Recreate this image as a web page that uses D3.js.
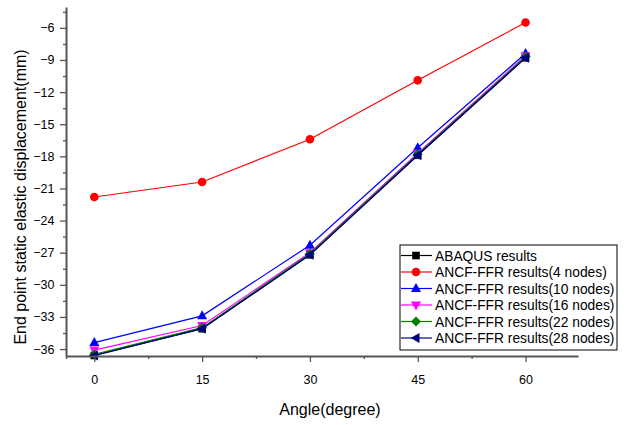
<!DOCTYPE html>
<html>
<head>
<meta charset="utf-8">
<script src="https://cdn.jsdelivr.net/npm/d3@7"></script>
<style>
  body { margin: 0; background: #fff; }
  text { font-family: Arial, "Liberation Sans", sans-serif; }
</style>
</head>
<body>
<div id="chart"></div>
<script>
// angles (degree)
var angles = [0, 15, 30, 45, 60];
var xTicks = [0, 15, 30, 45, 60];
var yTicks = [-36, -33, -30, -27, -24, -21, -18, -15, -12, -9, -6];

// end point displacement (mm)
var abaqus  = [-36.6, -34.1, -27.2, -17.9, -8.8];
var ffr4    = [-21.8, -20.4, -16.4, -10.9, -5.5];
var ffr10   = [-35.4, -32.9, -26.3, -17.2, -8.4];
var ffr16   = [-36.1, -33.8, -27.0, -17.7, -8.6];
var ffr22   = [-36.5, -34.0, -27.1, -17.8, -8.7];
var ffr28   = [-36.6, -34.1, -27.2, -17.9, -8.8];

var seriesNames = ["ABAQUS results", "ANCF-FFR results(4 nodes)", "ANCF-FFR results(10 nodes)",
  "ANCF-FFR results(16 nodes)", "ANCF-FFR results(22 nodes)", "ANCF-FFR results(28 nodes)"];
var seriesColors = ["#000000", "#ff0000", "#0000ff", "#ff00ff", "#008000", "#000080"];
var seriesSymbols = ["square", "circle", "up", "down", "diamond", "left"];
var seriesValues = [abaqus, ffr4, ffr10, ffr16, ffr22, ffr28];

var width = 625, height = 425;
var margin = {left: 66, right: 578, top: 7, bottom: 356};

var svg = d3.select('#chart').append('svg')
  .attr('width', width)
  .attr('height', height);

var x = d3.scaleLinear().domain([-3.94, 67.3]).range([margin.left, margin.right]);
var y = d3.scaleLinear().domain([-36.65, -4.05]).range([margin.bottom, margin.top]);

function marker(sel, sym, color) {
  if (sym == "circle") {
    sel.append('circle').attr('r', 4.3).attr('fill', color);
  } else if (sym == "square") {
    sel.append('rect').attr('x', -3.8).attr('y', -3.8).attr('width', 7.6).attr('height', 7.6).attr('fill', color);
  } else {
    var p;
    if (sym == "up") p = "M0,-5.5L5,3.5L-5,3.5Z";
    else if (sym == "down") p = "M0,5.5L5,-3.5L-5,-3.5Z";
    else if (sym == "left") p = "M-5.5,0L3.5,-5L3.5,5Z";
    else p = "M0,-5L5,0L0,5L-5,0Z";
    sel.append('path').attr('d', p).attr('fill', color);
  }
}

var line = d3.line()
  .x(function(d, i) { return x(angles[i]); })
  .y(function(d) { return y(d); });

seriesValues.forEach(function(vals, s) {
  svg.append('path')
    .datum(vals)
    .attr('d', line)
    .attr('fill', 'none')
    .attr('stroke', seriesColors[s])
    .attr('stroke-width', 1.2);
  svg.selectAll('.m' + s)
    .data(vals)
    .enter().append('g')
    .attr('class', 'm' + s)
    .attr('transform', function(d, i) { return 'translate(' + x(angles[i]) + ',' + y(d) + ')'; })
    .each(function() { marker(d3.select(this), seriesSymbols[s], seriesColors[s]); });
});

// axes
var axisColor = "#555";
var gx = svg.append('g')
  .attr('transform', 'translate(0,' + margin.bottom + ')')
  .call(d3.axisBottom(x).tickValues(xTicks).tickSize(6).tickSizeOuter(0));
svg.append('g')
  .attr('transform', 'translate(0,' + margin.bottom + ')')
  .call(d3.axisBottom(x).tickValues([-3.94, 7.5, 22.5, 37.5, 52.5]).tickSize(3).tickFormat(''))
  .select('.domain').remove();

var gy = svg.append('g')
  .attr('transform', 'translate(' + margin.left + ',0)')
  .call(d3.axisLeft(y).tickValues(yTicks).tickSize(6).tickSizeOuter(0));
svg.append('g')
  .attr('transform', 'translate(' + margin.left + ',0)')
  .call(d3.axisLeft(y).tickValues(d3.range(-34.5, -4, 3)).tickSize(3).tickFormat(''))
  .select('.domain').remove();

svg.selectAll('.domain').attr('stroke', axisColor).attr('stroke-width', 2);
svg.selectAll('.tick line').attr('stroke', axisColor).attr('stroke-width', 1.3);
gx.selectAll('text').attr('font-size', 12.5).attr('fill', '#000').attr('dy', '1.5em');
gy.selectAll('text').attr('font-size', 12.5).attr('fill', '#000').attr('dx', '-0.2em');

// axis titles
svg.append('text')
  .attr('x', 330)
  .attr('y', 415)
  .attr('text-anchor', 'middle')
  .attr('font-size', 16)
  .text('Angle(degree)');

svg.append('text')
  .attr('transform', 'translate(26,197) rotate(-90)')
  .attr('text-anchor', 'middle')
  .attr('font-size', 16)
  .text('End point  static elastic displacement(mm)');

// legend
var lg = svg.append('g').attr('transform', 'translate(400,245)');
lg.append('rect')
  .attr('width', 217).attr('height', 105)
  .attr('fill', '#fff').attr('stroke', '#000').attr('stroke-width', 1);
seriesNames.forEach(function(name, i) {
  var row = lg.append('g').attr('transform', 'translate(0,' + (10.5 + i * 16.5) + ')');
  row.append('line').attr('x1', 1).attr('x2', 32).attr('stroke', seriesColors[i]).attr('stroke-width', 1.2);
  var mk = row.append('g').attr('transform', 'translate(16,0)');
  marker(mk, seriesSymbols[i], seriesColors[i]);
  row.append('text').attr('x', 35).attr('y', 5).attr('font-size', 13.8).text(name);
});
</script>
</body>
</html>
